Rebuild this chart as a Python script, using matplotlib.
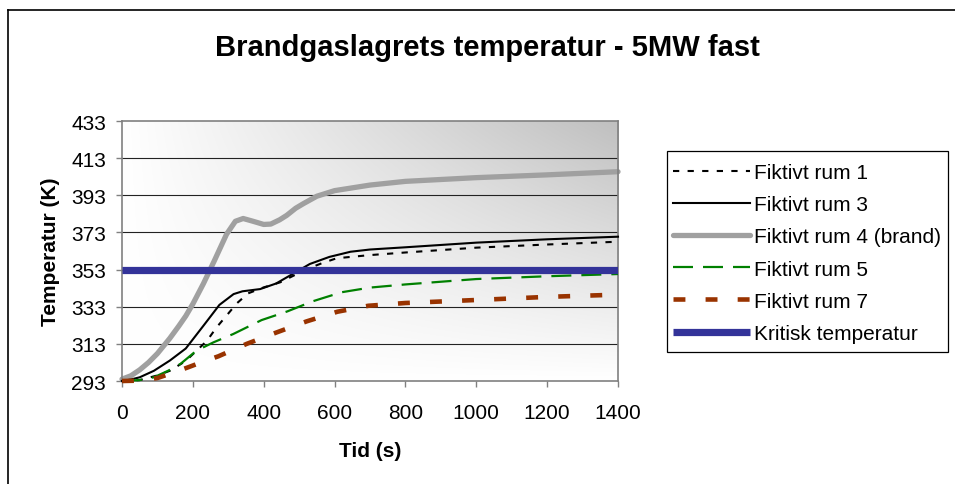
import numpy as np
import matplotlib
matplotlib.use("Agg")
import matplotlib.pyplot as plt
from matplotlib.lines import Line2D
from matplotlib.patches import Rectangle

plt.rcParams['font.family'] = ['Liberation Sans', 'DejaVu Sans']

title = "Brandgaslagrets temperatur - 5MW fast"
xlabel = "Tid (s)"
ylabel = "Temperatur (K)"

t1 = [0, 50, 100, 135, 180, 240, 267, 295, 324, 356, 400, 446, 484, 525, 564, 606, 700, 800, 1000, 1200, 1400]
rum1 = [293, 293.5, 296, 298.5, 303.8, 314.7, 321.9, 328.2, 334.8, 340.2, 343.4, 346.1, 349.7, 353.5, 356.4, 359.1, 360.8, 362.2, 364.8, 366.5, 368]

t3 = [0, 25, 50, 90, 135, 180, 230, 275, 315, 340, 390, 435, 485, 530, 585, 645, 700, 800, 1000, 1200, 1400]
rum3 = [293, 293.8, 295, 298.5, 304, 310.5, 322.8, 334, 339.8, 341.3, 342.5, 345.5, 351, 356, 359.8, 362.6, 363.8, 365, 367.5, 369.3, 370.7]

t4 = [0, 25, 50, 75, 100, 135, 160, 180, 200, 230, 260, 295, 320, 342, 370, 400, 420, 445, 465, 490, 512, 550, 600, 700, 800, 1000, 1200, 1400]
rum4 = [294, 295.8, 299, 303, 307.8, 316, 322.5, 328, 334.5, 345.5, 357.5, 372, 379, 380.5, 379, 377.3, 377.5, 379.8, 382.2, 386, 388.5, 392.5, 395.5, 398.5, 400.5, 402.5, 404, 405.7]

t5 = [0, 50, 90, 130, 165, 210, 258, 314, 394, 467, 538, 620, 700, 800, 1000, 1200, 1400]
rum5 = [293, 293.5, 295, 298.5, 302.2, 309.3, 313.8, 318.3, 325.8, 330.5, 335.9, 340.8, 343.3, 345, 347.9, 349.4, 350.6]

t7 = [0, 50, 100, 145, 187, 230, 272, 352, 437, 521, 608, 695, 800, 1047, 1200, 1400]
rum7 = [293, 293.2, 294.6, 297.5, 300.4, 303.5, 306.3, 313, 319.2, 325.1, 330.3, 333.5, 335, 337, 338.3, 339.5]

t_krit = [0, 1400]
krit = [353, 353]

labels = ["Fiktivt rum 1", "Fiktivt rum 3", "Fiktivt rum 4 (brand)",
          "Fiktivt rum 5", "Fiktivt rum 7", "Kritisk temperatur"]
yticks = [293, 313, 333, 353, 373, 393, 413, 433]
xticks = [0, 200, 400, 600, 800, 1000, 1200, 1400]

W, H = 955, 485
fig = plt.figure(figsize=(W / 100, H / 100), dpi=100)
ax = fig.add_axes([122 / W, 1 - 382 / H, (618 - 122) / W, (382 - 122) / H])

# gradient background (white bottom-left to grey top-right)
n = 200
u = np.linspace(0, 1, n)
U, V = np.meshgrid(u, u)
val = U * V
g = 1.0 - val * (1 - 0.75)
img = np.dstack([g, g, g])
ax.imshow(img, extent=[0, 1400, 293, 433], origin='lower', aspect='auto', zorder=0, interpolation='bilinear')

ax.set_xlim(0, 1400)
ax.set_ylim(293, 433)
ax.set_yticks(yticks)
ax.set_xticks(xticks)
for y in yticks[1:-1]:
    ax.axhline(y, color='#222222', lw=0.8, zorder=1)

ax.plot(t1, rum1, color='black', lw=1.5, dashes=(3, 4), label=labels[0], zorder=3, clip_on=False)
ax.plot(t3, rum3, color='black', lw=1.5, label=labels[1], zorder=3, clip_on=False)
ax.plot(t4, rum4, color='#A0A0A0', lw=3.8, label=labels[2], zorder=2, clip_on=False,
        solid_capstyle='round', solid_joinstyle='round')
ax.plot(t5, rum5, color='#008000', lw=1.6, dashes=(9, 4.5), label=labels[3], zorder=3, clip_on=False)
ax.plot(t7, rum7, color='#993300', lw=3.3, dashes=(2.6, 4.4), dash_capstyle='butt', label=labels[4], zorder=3, clip_on=False)
ax.plot(t_krit, krit, color='#333399', lw=5.2, label=labels[5], zorder=4, solid_capstyle='butt')

for s in ax.spines.values():
    s.set_color('#808080')
    s.set_linewidth(1.2)
ax.tick_params(axis='both', direction='out', length=4, width=1, color='#808080',
               labelsize=15, labelcolor='black')
ax.tick_params(axis='y', pad=7.5)
ax.tick_params(axis='x', pad=12)

ax.set_xlabel(xlabel, fontsize=15, fontweight='bold', labelpad=13.5)
ax.set_ylabel(ylabel, fontsize=15, fontweight='bold', labelpad=8)

fig.text(487 / W, 1 - 48 / H, title, fontsize=21, fontweight='bold', ha='center', va='center')

# legend frame drawn at the reference position, entries placed inside it
fig.add_artist(Rectangle((667 / W, 1 - 353 / H), (948 - 667) / W, (353 - 152) / H,
                         transform=fig.transFigure, facecolor='white', edgecolor='black', lw=0.9, zorder=4))
handles, labs = ax.get_legend_handles_labels()
leg = fig.legend(handles, labs, loc='upper left', bbox_to_anchor=(667 / W, 1 - 158 / H),
                 bbox_transform=fig.transFigure,
                 borderaxespad=0, frameon=False, fontsize=15,
                 handlelength=3.7, handletextpad=0.2, labelspacing=0.63, borderpad=0.3)
leg.set_zorder(6)

# figure border (left and top)
fig.add_artist(Line2D([8 / W, 8 / W], [0, 1 - 11 / H], transform=fig.transFigure, color='black', lw=1.2))
fig.add_artist(Line2D([8 / W, 1], [1 - 11 / H, 1 - 11 / H], transform=fig.transFigure, color='black', lw=1.2))

fig.savefig('out.png', dpi=100)
